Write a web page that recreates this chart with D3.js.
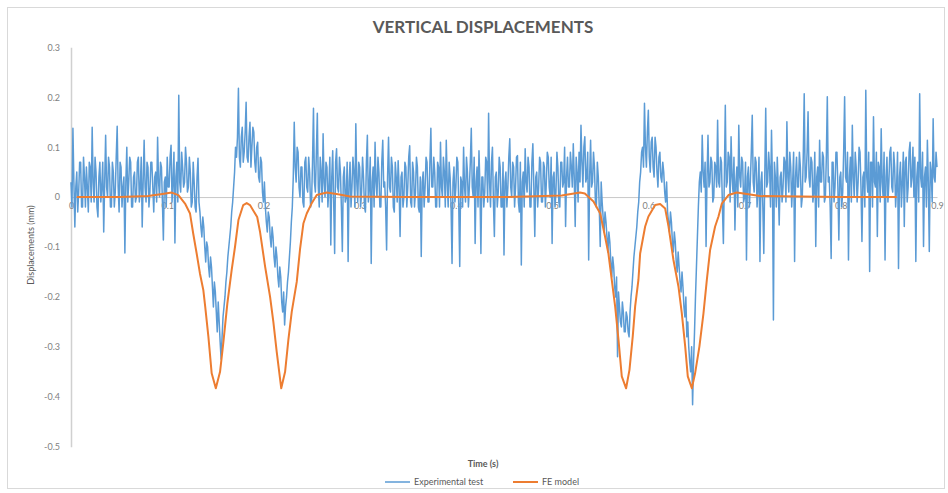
<!DOCTYPE html>
<html>
<head>
<meta charset="utf-8">
<script src="https://cdn.jsdelivr.net/npm/d3@7"></script>
<style>
  body { margin: 0; background: #fff; }
  text { font-family: Lato, "Open Sans", sans-serif; }
</style>
</head>
<body>
<svg id="chart" width="948" height="493"></svg>
<script>
// Vertical displacement records (mm) against time (s)
const sampleInterval = 0.001; // s between experimental readings

const experimental = [
  0.03,-0.02, 0.138,0.03, -0.06,0.02, 0.05,-0.03, 0.01,0.07, 0.07,-0.02, -0.02,0.08, 0.04,-0.02, 0.06,0.02, -0.03,0.07,
  0.06,-0.01, 0.14,0.03, -0.01,0.08, 0.05,-0.02, -0.04,0.04, 0.07,-0.01, 0.02,0.07, -0.07,0.03, 0.124,0.02, 0.0,0.08,
  0.06,-0.02, -0.02,0.07, 0.05,-0.02, 0.01,0.08, 0.142,0.02, -0.03,0.07, 0.06,-0.02, 0.02,0.04, -0.112,0.03, 0.1,-0.01,
  0.03,0.08, 0.07,-0.02, -0.02,0.04, 0.05,-0.01, 0.0,0.07, 0.08,-0.01, 0.02,0.08, -0.06,0.03, 0.114,0.02, -0.01,0.07,
  0.06,-0.02, 0.01,0.07, 0.07,0.02, -0.03,0.04, 0.05,-0.01, 0.12,0.03, 0.0,0.07, 0.06,-0.01, -0.086,0.03, 0.04,-0.02,
  0.08,0.02, 0.02,0.08, 0.104,-0.01, 0.03,0.09, -0.092,0.04, 0.07,-0.01, 0.204,0.03, 0.01,0.09, 0.06,0.02, 0.03,0.1,
  0.07,0.01, 0.02,0.08, 0.05,-0.02, -0.01,0.07, 0.03,-0.02, -0.03,0.04, 0.078,-0.01, -0.03,-0.06, -0.08,-0.04, -0.06,-0.1,
  -0.13,-0.09, -0.1,-0.14, -0.16,-0.12, -0.14,-0.18, -0.22,-0.17, -0.19,-0.23, -0.27,-0.21, -0.25,-0.29, -0.325,-0.28, -0.24,-0.22,
  -0.2,-0.17, -0.15,-0.12, -0.1,-0.08, -0.06,-0.03, -0.01,0.02, 0.05,0.1, 0.08,0.12, 0.218,0.08, 0.06,0.12, 0.14,0.07,
  0.09,0.13, 0.19,0.08, 0.07,0.12, 0.15,0.06, 0.1,0.14, 0.13,0.07, 0.05,0.1, 0.11,0.04, 0.03,0.08, 0.07,0.01,
  -0.01,0.03, -0.02,-0.05, -0.07,-0.03, -0.04,-0.08, -0.1,-0.06, -0.08,-0.12, -0.14,-0.1, -0.12,-0.16, -0.18,-0.14, -0.16,-0.21,
  -0.23,-0.19, -0.256,-0.22, -0.2,-0.17, -0.15,-0.12, -0.09,-0.05, -0.02,0.04, 0.15,0.06, 0.03,0.1, 0.09,0.02, 0.0,0.06,
  0.06,-0.01, -0.02,0.07, 0.08,0.02, 0.01,0.08, 0.05,-0.02, -0.01,0.07, 0.178,0.03, 0.01,0.09, 0.168,0.02, -0.02,0.08,
  0.05,-0.01, 0.127,0.03, 0.0,0.07, 0.06,-0.02, 0.02,0.08, -0.096,0.04, 0.093,-0.01, -0.113,0.07, 0.097,0.02, 0.01,0.08,
  0.05,-0.02, -0.109,0.04, 0.06,-0.01, 0.0,0.07, -0.129,0.03, 0.07,-0.02, 0.02,0.08, 0.05,-0.02, 0.147,0.03, -0.01,0.07,
  0.06,-0.02, 0.01,0.08, 0.04,-0.02, -0.03,0.07, 0.124,-0.01, 0.02,0.08, -0.133,0.03, 0.06,-0.02, 0.11,0.03, 0.0,0.08,
  0.05,-0.02, -0.02,0.07, 0.114,0.02, 0.03,-0.02, -0.106,0.04, 0.12,0.02, 0.01,0.08, 0.06,-0.02, -0.03,0.07, 0.04,-0.01,
  0.073,0.02, -0.079,0.04, 0.05,-0.02, 0.0,0.07, 0.06,-0.02, 0.02,0.08, 0.103,-0.01, -0.02,0.07, 0.05,-0.02, 0.01,0.08,
  0.06,-0.02, -0.03,0.04, -0.119,0.03, 0.05,-0.02, 0.02,0.08, 0.07,-0.01, -0.01,0.07, 0.138,0.02, 0.02,0.08, 0.05,-0.02,
  -0.02,0.07, 0.06,-0.02, 0.11,0.02, 0.0,0.08, 0.05,-0.02, 0.114,0.03, -0.02,0.07, 0.04,-0.02, -0.133,0.03, 0.06,-0.01,
  0.02,0.08, 0.07,-0.02, -0.139,0.04, 0.03,-0.02, 0.1,0.02, -0.01,0.08, 0.05,-0.02, 0.02,0.07, 0.138,0.02, 0.0,0.08,
  -0.093,0.03, 0.06,-0.02, 0.093,0.02, -0.113,0.04, 0.04,-0.02, 0.01,0.08, 0.07,-0.01, 0.168,0.03, -0.02,0.07, 0.1,-0.01,
  -0.079,0.04, 0.05,-0.02, 0.01,0.08, 0.06,-0.02, -0.02,0.07, -0.116,0.03, 0.05,-0.02, 0.02,0.08, 0.117,0.02, 0.0,0.07,
  0.06,-0.02, 0.02,0.08, 0.083,-0.01, -0.03,0.07, -0.136,0.03, 0.05,-0.02, 0.097,0.03, 0.01,0.08, 0.06,-0.02, -0.02,0.07,
  0.107,0.02, -0.079,0.04, 0.05,-0.02, 0.02,0.08, 0.07,-0.01, -0.01,0.07, 0.06,-0.02, 0.03,0.09, 0.08,0.02, 0.0,0.08,
  -0.093,0.04, 0.05,-0.02, 0.01,0.09, 0.06,-0.01, -0.02,0.07, 0.07,0.02, 0.03,0.1, -0.059,0.04, 0.08,0.02, 0.02,0.09,
  0.06,0.02, 0.107,0.04, -0.059,0.08, 0.05,-0.01, 0.09,0.03, 0.144,0.07, 0.02,0.1, 0.121,0.03, 0.04,0.09, -0.126,0.04,
  0.114,0.02, 0.03,0.09, 0.06,-0.01, -0.02,0.07, 0.04,-0.02, -0.099,0.03, -0.01,-0.04, -0.07,-0.03, -0.05,-0.08, -0.11,-0.07,
  -0.09,-0.13, -0.16,-0.12, -0.14,-0.18, -0.2,-0.16, -0.32,-0.19, -0.22,-0.25, -0.26,-0.21, -0.23,-0.27, -0.27,-0.23, -0.24,-0.27,
  -0.28,-0.23, -0.2,-0.18, -0.15,-0.12, -0.1,-0.08, -0.06,-0.03, -0.01,0.03, 0.05,0.09, 0.1,0.06, 0.188,0.1, 0.06,0.13,
  0.174,0.08, 0.05,0.11, 0.12,0.06, 0.04,0.12, 0.1,0.05, 0.02,0.08, 0.09,0.04, 0.03,0.07, 0.05,0.01, -0.01,0.03,
  -0.03,-0.05, -0.07,-0.03, -0.05,-0.09, -0.11,-0.07, -0.09,-0.13, -0.15,-0.11, -0.14,-0.17, -0.19,-0.15, -0.18,-0.22, -0.24,-0.2,
  -0.28,-0.25, -0.3,-0.33, -0.35,-0.3, -0.416,-0.33, -0.27,-0.2, -0.14,-0.08, -0.02,0.03, 0.05,0.01, 0.124,0.05, 0.02,0.07,
  -0.099,0.04, 0.124,0.02, 0.03,0.08, 0.07,-0.01, 0.0,0.07, 0.06,0.02, 0.154,0.03, 0.02,0.08, 0.07,-0.02, -0.093,0.04,
  0.184,0.02, 0.03,0.09, 0.08,-0.01, 0.121,0.04, 0.01,0.08, -0.066,0.03, 0.06,-0.02, 0.144,0.04, 0.02,0.08, 0.07,-0.01,
  0.0,0.07, -0.126,0.04, 0.06,-0.02, 0.03,0.09, 0.164,0.03, 0.01,0.08, 0.07,-0.02, 0.02,0.08, -0.129,0.03, 0.05,-0.02,
  -0.113,0.04, 0.178,0.02, 0.03,0.09, 0.06,-0.02, 0.134,0.03, -0.246,0.07, 0.04,-0.02, 0.08,0.02, -0.056,0.04, 0.05,-0.01,
  0.02,0.08, 0.07,-0.01, 0.151,0.04, 0.01,0.09, 0.06,-0.02, 0.03,0.09, -0.129,0.04, 0.08,0.02, 0.02,0.09, 0.06,-0.02,
  0.0,0.08, 0.207,0.03, 0.04,0.09, 0.171,0.04, 0.02,0.08, 0.07,-0.01, 0.01,0.09, -0.099,0.04, 0.06,-0.02, 0.114,0.03,
  0.03,0.09, 0.08,-0.01, 0.0,0.08, 0.201,0.03, 0.04,-0.02, -0.123,0.07, 0.07,-0.01, 0.02,0.09, 0.09,0.02, -0.086,0.04,
  0.05,-0.02, 0.01,0.09, 0.201,0.04, 0.03,0.09, -0.126,0.04, 0.08,-0.01, 0.144,0.04, 0.0,0.09, 0.06,-0.01, 0.03,0.1,
  0.09,0.02, -0.089,0.04, 0.05,-0.02, 0.214,0.04, 0.01,0.09, -0.149,0.07, 0.07,-0.02, 0.161,0.03, 0.02,0.09, -0.079,0.07,
  0.06,-0.01, 0.137,0.03, 0.0,0.09, -0.126,0.04, 0.08,-0.01, 0.03,0.09, 0.1,0.02, 0.01,0.09, 0.06,-0.02, 0.02,0.09,
  -0.143,0.04, 0.07,-0.02, 0.03,0.09, -0.059,0.07, 0.08,-0.01, 0.02,0.09, 0.11,0.02, 0.04,0.1, 0.0,0.08, -0.129,0.04,
  0.07,-0.01, 0.207,0.04, 0.02,0.09, -0.099,0.04, 0.06,-0.02, 0.114,0.03, -0.109,0.07, 0.05,-0.01, 0.157,0.04, 0.03,0.09,
  0.06
];

const feTime = [
  0.006, 0.05, 0.08, 0.095, 0.1047, 0.1116, 0.1185, 0.1237, 0.127, 0.1306,
  0.134, 0.1375, 0.1395, 0.1428, 0.1462, 0.1505, 0.1549, 0.1584, 0.1625, 0.167,
  0.1705, 0.174, 0.179, 0.1826, 0.186, 0.1935, 0.1965, 0.2017, 0.2069, 0.2103,
  0.2138, 0.2185, 0.2225, 0.2259, 0.2294, 0.2346, 0.238, 0.2415, 0.245, 0.25,
  0.2554, 0.2658, 0.276, 0.29, 0.35, 0.45, 0.51, 0.529, 0.534, 0.543,
  0.55, 0.555, 0.5585, 0.562, 0.5655, 0.569, 0.5724, 0.5769, 0.5804, 0.5838,
  0.5863, 0.5897, 0.5915, 0.5967, 0.6001, 0.6071, 0.6123, 0.6175, 0.621, 0.6261,
  0.6313, 0.6348, 0.6383, 0.641, 0.6452, 0.6486, 0.6531, 0.6573, 0.6608, 0.6642,
  0.6694, 0.6729, 0.6764, 0.6833, 0.692, 0.7023, 0.716, 0.8, 0.858
];

const feDisp = [
  0.0, 0.0, 0.002, 0.006, 0.009, 0.004, -0.013, -0.033, -0.073, -0.113,
  -0.153, -0.186, -0.22, -0.28, -0.353, -0.383, -0.35, -0.29, -0.213, -0.146,
  -0.099, -0.046, -0.016, -0.012, -0.016, -0.04, -0.07, -0.139, -0.2, -0.25,
  -0.31, -0.383, -0.35, -0.286, -0.23, -0.17, -0.105, -0.053, -0.033, -0.013,
  0.004, 0.009, 0.006, 0.001, 0.0, 0.0, 0.003, 0.009, 0.007, -0.009,
  -0.033, -0.079, -0.113, -0.166, -0.219, -0.286, -0.359, -0.383, -0.346, -0.279,
  -0.219, -0.166, -0.113, -0.059, -0.039, -0.016, -0.014, -0.023, -0.059, -0.126,
  -0.179, -0.233, -0.299, -0.359, -0.383, -0.353, -0.299, -0.233, -0.166, -0.106,
  -0.059, -0.039, -0.013, 0.004, 0.009, 0.006, 0.002, 0.0, 0.0
];

const xTicks = [0, 0.1, 0.2, 0.3, 0.4, 0.5, 0.6, 0.7, 0.8, 0.9];
const yTicks = [0.3, 0.2, 0.1, 0, -0.1, -0.2, -0.3, -0.4, -0.5];

const seriesNames = ["Experimental test", "FE model"];
const seriesColors = ["#5B9BD5", "#ED7D31"];

const svg = d3.select("#chart");

// Chart frame
svg.append("rect")
  .attr("x", 7.5).attr("y", 7.5)
  .attr("width", 937).attr("height", 481)
  .attr("fill", "#fff").attr("stroke", "#d9d9d9");

const x = d3.scaleLinear().domain([0, 0.9]).range([71, 937]);
const y = d3.scaleLinear().domain([-0.5, 0.3]).range([446.7, 47.3]);

const fmt = d => d === 0 ? "0" : d3.format(".1f")(d).replace("\u2212", "-");

// Vertical axis
const yAxis = svg.append("g")
  .attr("transform", `translate(${x(0)},0)`)
  .call(d3.axisLeft(y).tickValues(yTicks).tickSize(0).tickSizeOuter(0).tickPadding(11).tickFormat(fmt));
yAxis.select(".domain").attr("stroke", "#d0d0d0").attr("stroke-width", 1.5);
yAxis.selectAll("text").attr("fill", "#7f7f7f").style("font-size", "9px");

// Horizontal axis along zero
const xAxis = svg.append("g")
  .attr("transform", `translate(0,${y(0)})`)
  .call(d3.axisBottom(x).tickValues(xTicks).tickSize(0).tickSizeOuter(0).tickPadding(6).tickFormat(fmt));
xAxis.select(".domain").attr("stroke", "#c8c8c8").attr("stroke-width", 1);
xAxis.selectAll("text").attr("fill", "#7f7f7f").style("font-size", "9px");

// Series
const expLine = d3.line()
  .x((d, i) => x(i * sampleInterval))
  .y(d => y(d));

svg.append("path")
  .datum(experimental)
  .attr("fill", "none")
  .attr("stroke", seriesColors[0])
  .attr("stroke-width", 1.5)
  .attr("stroke-linejoin", "round")
  .attr("d", expLine);

const feLine = d3.line()
  .x((d, i) => x(feTime[i]))
  .y(d => y(d));

svg.append("path")
  .datum(feDisp)
  .attr("fill", "none")
  .attr("stroke", seriesColors[1])
  .attr("stroke-width", 2)
  .attr("stroke-linejoin", "round")
  .attr("d", feLine);

// Titles
svg.append("text")
  .attr("x", 483).attr("y", 33)
  .attr("text-anchor", "middle")
  .attr("fill", "#595959")
  .style("font-size", "17px").style("font-weight", "bold")
  .text("VERTICAL DISPLACEMENTS");

svg.append("text")
  .attr("transform", "translate(34,245) rotate(-90)")
  .attr("text-anchor", "middle")
  .attr("fill", "#595959")
  .style("font-size", "9px")
  .text("Displacements (mm)");

svg.append("text")
  .attr("x", 483).attr("y", 467)
  .attr("text-anchor", "middle")
  .attr("fill", "#595959")
  .style("font-size", "9px").style("font-weight", "bold")
  .text("Time (s)");

// Legend
const legendItems = [
  { x: 385, w: 25 },
  { x: 513, w: 25 }
];
const legend = svg.append("g").attr("transform", "translate(0,482)");
seriesNames.forEach((name, i) => {
  legend.append("line")
    .attr("x1", legendItems[i].x).attr("x2", legendItems[i].x + legendItems[i].w)
    .attr("y1", 0).attr("y2", 0)
    .attr("stroke", seriesColors[i])
    .attr("stroke-width", i === 0 ? 1.5 : 2);
  legend.append("text")
    .attr("x", legendItems[i].x + legendItems[i].w + 4)
    .attr("y", 3)
    .attr("fill", "#595959")
    .style("font-size", "9px")
    .text(name);
});
</script>
</body>
</html>
